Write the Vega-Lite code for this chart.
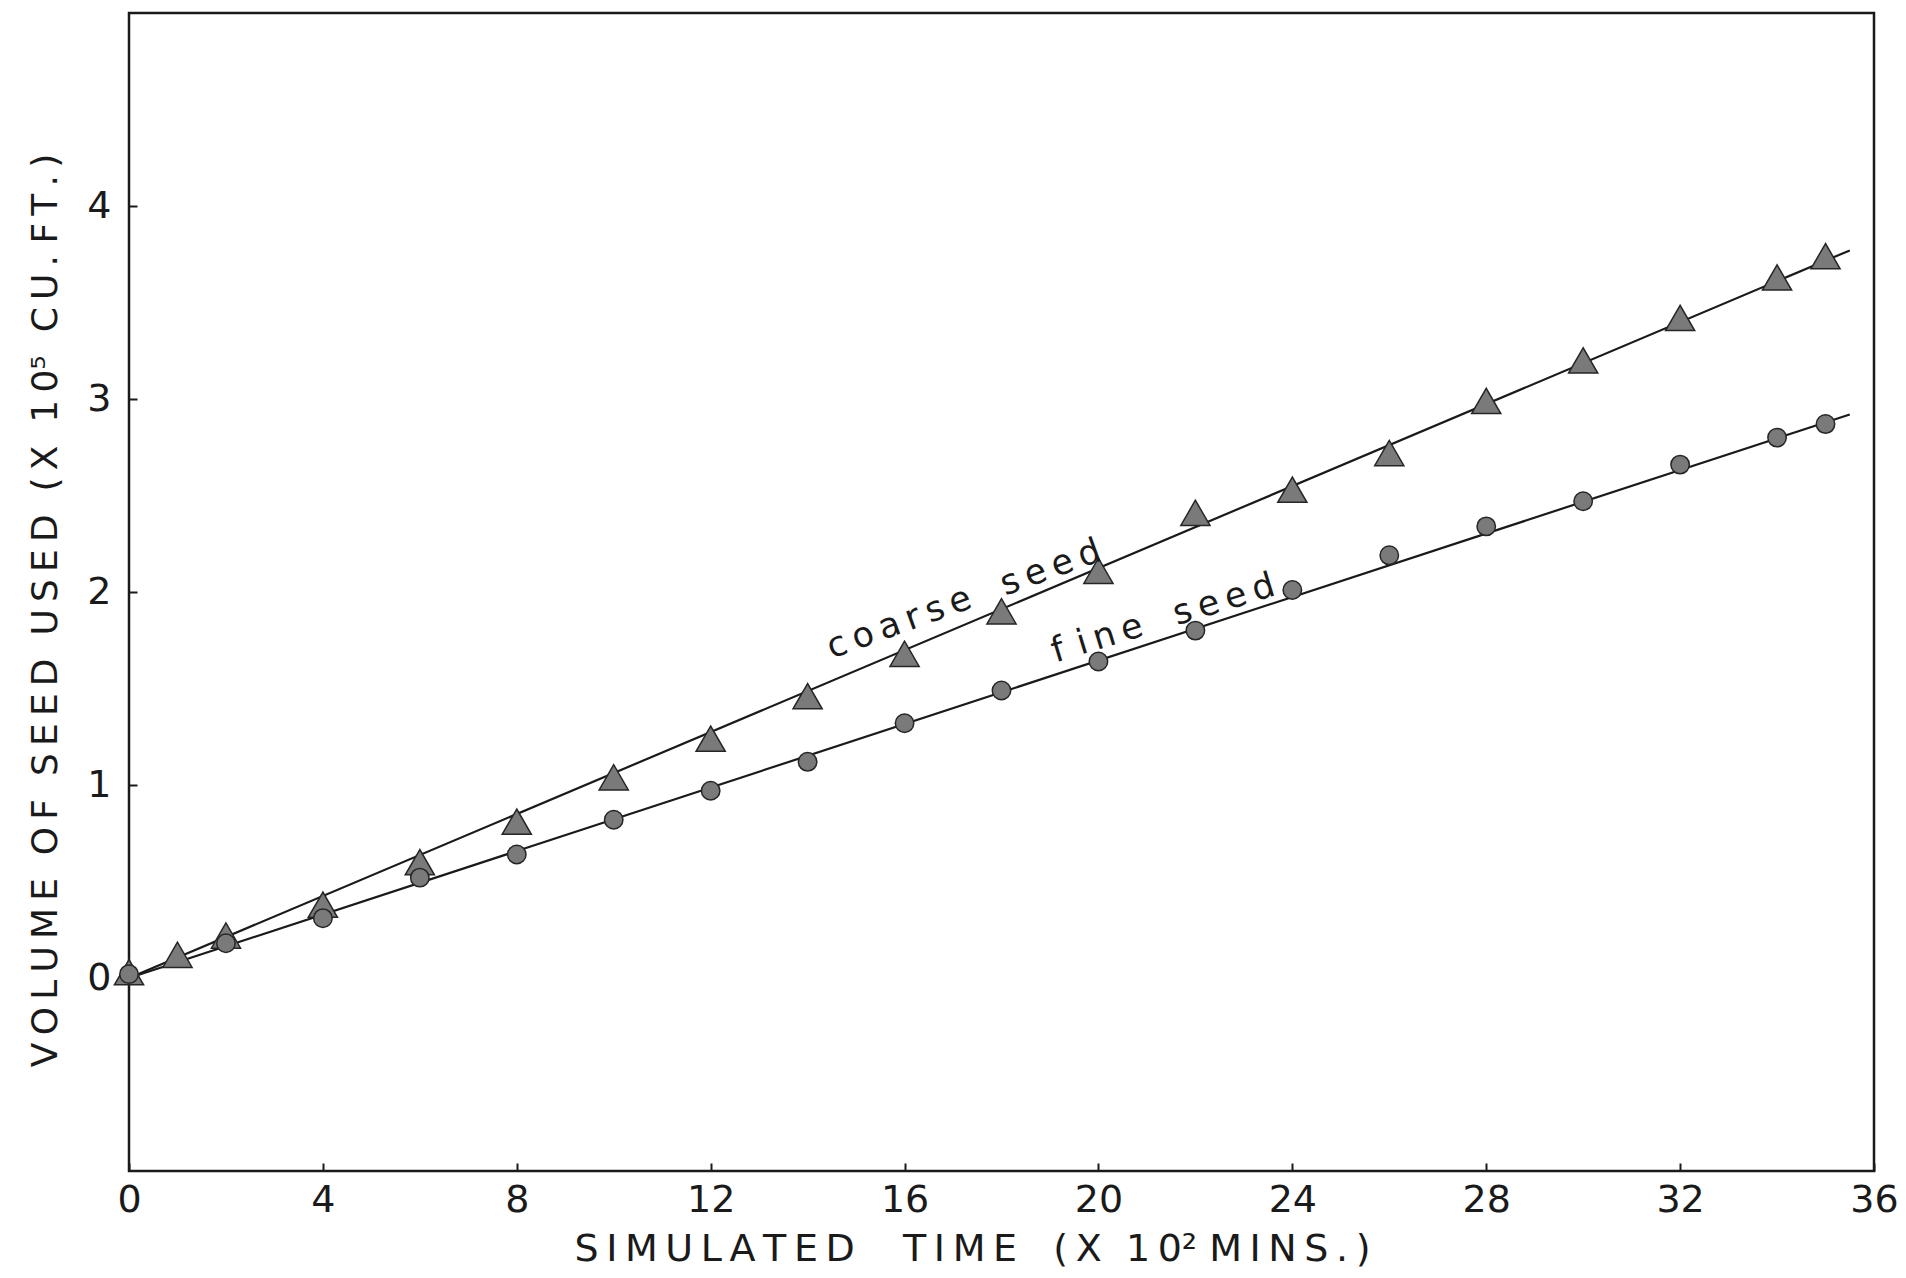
{
  "$schema": "https://vega.github.io/schema/vega-lite/v6.json",
  "width": 1745,
  "height": 1158,
  "autosize": {"type": "none"},
  "padding": {"left": 129, "top": 13, "right": 32, "bottom": 107},
  "background": "white",
  "config": {
    "view": {"stroke": "#1a1a1a", "strokeWidth": 2.5},
    "font": "DejaVu Sans",
    "axis": {
      "domain": false,
      "grid": false,
      "ticks": true,
      "tickColor": "#1a1a1a",
      "tickWidth": 2,
      "labelColor": "#1a1a1a",
      "titleColor": "#1a1a1a",
      "labelFont": "DejaVu Sans",
      "titleFont": "DejaVu Sans",
      "titleFontWeight": "normal",
      "labelFontSize": 38,
      "titleFontSize": 38
    }
  },
  "datasets": {
    "pts": [
      {"series": "coarse", "t": 0, "v": 0.03},
      {"series": "coarse", "t": 1, "v": 0.12},
      {"series": "coarse", "t": 2, "v": 0.22},
      {"series": "coarse", "t": 4, "v": 0.38},
      {"series": "coarse", "t": 6, "v": 0.6},
      {"series": "coarse", "t": 8, "v": 0.81},
      {"series": "coarse", "t": 10, "v": 1.04},
      {"series": "coarse", "t": 12, "v": 1.24},
      {"series": "coarse", "t": 14, "v": 1.46},
      {"series": "coarse", "t": 16, "v": 1.68},
      {"series": "coarse", "t": 18, "v": 1.9},
      {"series": "coarse", "t": 20, "v": 2.11},
      {"series": "coarse", "t": 22, "v": 2.41},
      {"series": "coarse", "t": 24, "v": 2.53},
      {"series": "coarse", "t": 26, "v": 2.72},
      {"series": "coarse", "t": 28, "v": 2.99},
      {"series": "coarse", "t": 30, "v": 3.2},
      {"series": "coarse", "t": 32, "v": 3.42},
      {"series": "coarse", "t": 34, "v": 3.63},
      {"series": "coarse", "t": 35, "v": 3.74},
      {"series": "fine", "t": 0, "v": 0.02},
      {"series": "fine", "t": 2, "v": 0.18},
      {"series": "fine", "t": 4, "v": 0.31},
      {"series": "fine", "t": 6, "v": 0.52},
      {"series": "fine", "t": 8, "v": 0.64},
      {"series": "fine", "t": 10, "v": 0.82},
      {"series": "fine", "t": 12, "v": 0.97},
      {"series": "fine", "t": 14, "v": 1.12},
      {"series": "fine", "t": 16, "v": 1.32},
      {"series": "fine", "t": 18, "v": 1.49},
      {"series": "fine", "t": 20, "v": 1.64},
      {"series": "fine", "t": 22, "v": 1.8},
      {"series": "fine", "t": 24, "v": 2.01},
      {"series": "fine", "t": 26, "v": 2.19},
      {"series": "fine", "t": 28, "v": 2.34},
      {"series": "fine", "t": 30, "v": 2.47},
      {"series": "fine", "t": 32, "v": 2.66},
      {"series": "fine", "t": 34, "v": 2.8},
      {"series": "fine", "t": 35, "v": 2.87}
    ],
    "fit": [
      {"series": "coarse", "t": 0, "v": 0.0},
      {"series": "coarse", "t": 35.5, "v": 3.77},
      {"series": "fine", "t": 0, "v": 0.0},
      {"series": "fine", "t": 35.5, "v": 2.92}
    ],
    "labels": [
      {"series": "coarse", "t": 17.3, "v": 1.91, "text": "c\u2009o\u2009a\u2009r\u2009s\u2009e\u00a0\u00a0\u00a0s\u2009e\u2009e\u2009d", "angle": 340},
      {"series": "fine", "t": 21.4, "v": 1.81, "text": "f\u2009\u2009i\u2009n\u2009e\u00a0\u00a0\u00a0s\u2009e\u2009e\u2009d", "angle": 343}
    ]
  },
  "layer": [
    {
      "data": {"name": "fit"},
      "mark": {"type": "line", "color": "#1a1a1a", "strokeWidth": 2.2},
      "encoding": {
        "x": {
          "field": "t", "type": "quantitative",
          "scale": {"domain": [0, 36], "nice": false, "zero": false},
          "axis": {
            "values": [0, 4, 8, 12, 16, 20, 24, 28, 32, 36],
            "format": "d",
            "tickSize": -8,
            "labelPadding": 18,
            "labelFlush": false,
            "title": "S\u2009I\u2009M\u2009U\u2009L\u2009A\u2009T\u2009E\u2009D\u00a0\u00a0\u00a0\u00a0T\u2009I\u2009M\u2009E\u00a0\u00a0\u00a0(\u2009X\u00a0\u00a01\u20090²\u00a0M\u2009I\u2009N\u2009S\u2009.\u2009)",
            "titleX": 843,
            "titlePadding": 11
          }
        },
        "y": {
          "field": "v", "type": "quantitative",
          "scale": {"domain": [-1, 5], "nice": false, "zero": false},
          "axis": {
            "values": [0, 1, 2, 3, 4],
            "format": "d",
            "tickSize": -8,
            "labelPadding": 26,
            "labelFlush": false,
            "title": "V\u2009O\u2009L\u2009U\u2009M\u2009E\u00a0\u00a0O\u2009F\u00a0\u00a0S\u2009E\u2009E\u2009D\u00a0\u00a0U\u2009S\u2009E\u2009D\u00a0\u00a0(\u2009X\u00a0\u00a01\u20090⁵\u00a0\u00a0C\u2009U\u2009.\u00a0F\u2009T\u2009.\u2009)",
            "titleFontSize": 36,
            "titleY": 597,
            "titlePadding": 22
          }
        },
        "detail": {"field": "series"}
      }
    },
    {
      "data": {"name": "pts"},
      "mark": {"type": "point", "filled": true, "fill": "#7a7a7a", "stroke": "#262626", "strokeWidth": 1.5, "opacity": 1},
      "encoding": {
        "x": {"field": "t", "type": "quantitative"},
        "y": {"field": "v", "type": "quantitative"},
        "shape": {
          "field": "series", "type": "nominal",
          "scale": {"domain": ["coarse", "fine"], "range": ["triangle-up", "circle"]},
          "legend": null
        },
        "size": {
          "field": "series", "type": "nominal",
          "scale": {"type": "ordinal", "domain": ["coarse", "fine"], "range": [850, 340]},
          "legend": null
        }
      }
    },
    {
      "data": {"name": "labels"},
      "mark": {"type": "text", "font": "DejaVu Sans", "fontSize": 35, "color": "#1a1a1a", "align": "center", "baseline": "alphabetic"},
      "encoding": {
        "x": {"field": "t", "type": "quantitative"},
        "y": {"field": "v", "type": "quantitative"},
        "text": {"field": "text"},
        "angle": {"field": "angle", "type": "quantitative", "scale": null}
      }
    }
  ]
}
